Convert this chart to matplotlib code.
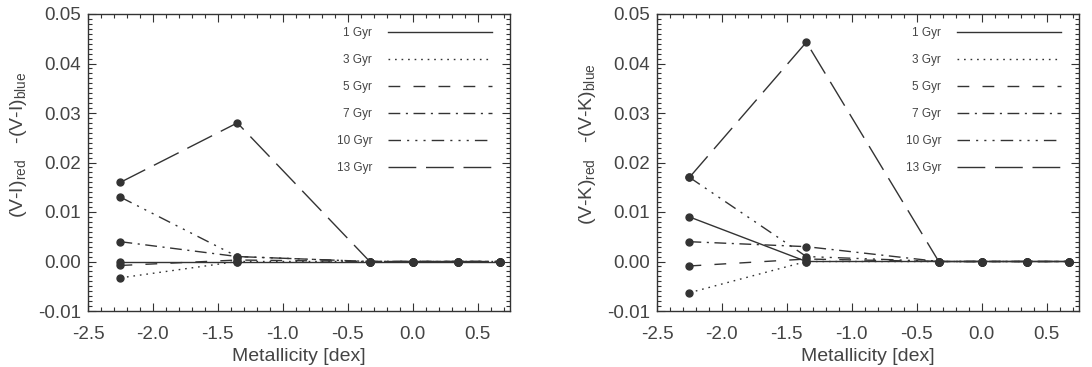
import numpy as np
import matplotlib.pyplot as plt
from matplotlib.ticker import MultipleLocator, FormatStrFormatter

plt.rcParams['font.family'] = ['Liberation Sans', 'DejaVu Sans']
plt.rcParams['mathtext.fontset'] = 'custom'
plt.rcParams['mathtext.rm'] = 'Liberation Sans'
plt.rcParams['axes.unicode_minus'] = False

metallicity = [-2.25, -1.35, -0.33, 0.0, 0.35, 0.67]
ages = ['1 Gyr', '3 Gyr', '5 Gyr', '7 Gyr', '10 Gyr', '13 Gyr']

vi_diff = [
    [0.0, 0.0, 0.0, 0.0, 0.0, 0.0],
    [-0.0033, 0.0, 0.0, 0.0, 0.0, 0.0],
    [-0.0008, 0.0003, 0.0, 0.0, 0.0, 0.0],
    [0.004, 0.001, 0.0, 0.0, 0.0, 0.0],
    [0.013, 0.001, 0.0, 0.0, 0.0, 0.0],
    [0.016, 0.028, 0.0, 0.0, 0.0, 0.0],
]
vk_diff = [
    [0.009, 0.0, 0.0, 0.0, 0.0, 0.0],
    [-0.0063, 0.0, 0.0, 0.0, 0.0, 0.0],
    [-0.0009, 0.0005, 0.0, 0.0, 0.0, 0.0],
    [0.004, 0.003, 0.0, 0.0, 0.0, 0.0],
    [0.017, 0.001, 0.0, 0.0, 0.0, 0.0],
    [0.017, 0.0443, 0.0, 0.0, 0.0, 0.0],
]

styles = [
    '-',
    (0, (1.2, 3.5)),
    (0, (8.5, 9.5)),
    (0, (8.5, 4, 1.5, 4)),
    (0, (9, 4.4, 1.5, 4.4, 1.5, 4.4, 1.5, 4.4)),
    (0, (20, 7)),
]
ink = '#333333'
txt = '#444444'

fig = plt.figure(figsize=(10.92, 3.67), dpi=100)
W, H = 1092, 367
ax1 = fig.add_axes([88 / W, (H - 311) / H, 422 / W, 297 / H])
ax2 = fig.add_axes([657 / W, (H - 311) / H, 422 / W, 297 / H])


def draw(ax, data, ylabel):
    for label, vals, ls in zip(ages, data, styles):
        ax.plot(metallicity, vals, linestyle=ls, color=ink, lw=1.0,
                marker='o', ms=5, mfc=ink, mec=ink, label=label)
    ax.set_xlim(-2.5, 0.75)
    ax.set_ylim(-0.01, 0.05)
    ax.xaxis.set_major_locator(MultipleLocator(0.5))
    ax.xaxis.set_minor_locator(MultipleLocator(0.1))
    ax.yaxis.set_major_locator(MultipleLocator(0.01))
    ax.yaxis.set_minor_locator(MultipleLocator(0.001))
    ax.xaxis.set_major_formatter(FormatStrFormatter('%.1f'))
    ax.yaxis.set_major_formatter(FormatStrFormatter('%.2f'))
    ax.tick_params(which='both', direction='in', top=True, right=True,
                   color=ink, labelcolor=txt, labelsize=13.5, width=0.8)
    ax.tick_params(which='major', length=6)
    ax.tick_params(which='minor', length=3)
    ax.tick_params(axis='x', which='major', pad=10.5)
    ax.tick_params(axis='y', which='major', pad=5)
    for s in ax.spines.values():
        s.set_color(ink)
        s.set_linewidth(1.0)
    ax.set_xlabel('Metallicity [dex]', fontsize=14, color=txt, labelpad=4)
    ax.set_ylabel(ylabel, fontsize=14, color=txt)
    ax.yaxis.set_label_coords(-0.14, 0.56)
    leg = ax.legend(loc='upper right', frameon=False, markerfirst=False,
                    fontsize=8.5, handlelength=8.8, handletextpad=1.35,
                    labelspacing=1.27, borderaxespad=0, borderpad=0,
                    bbox_to_anchor=(1 - 18 / 422, 1 - 13 / 297))
    for line in leg.get_lines():
        line.set_marker('')
    for t in leg.get_texts():
        t.set_color(txt)


draw(ax1, vi_diff, r'(V-I)$_{\rm red}$   -(V-I)$_{\rm blue}$')
draw(ax2, vk_diff, r'(V-K)$_{\rm red}$   -(V-K)$_{\rm blue}$')

fig.savefig('out.png', dpi=100)
